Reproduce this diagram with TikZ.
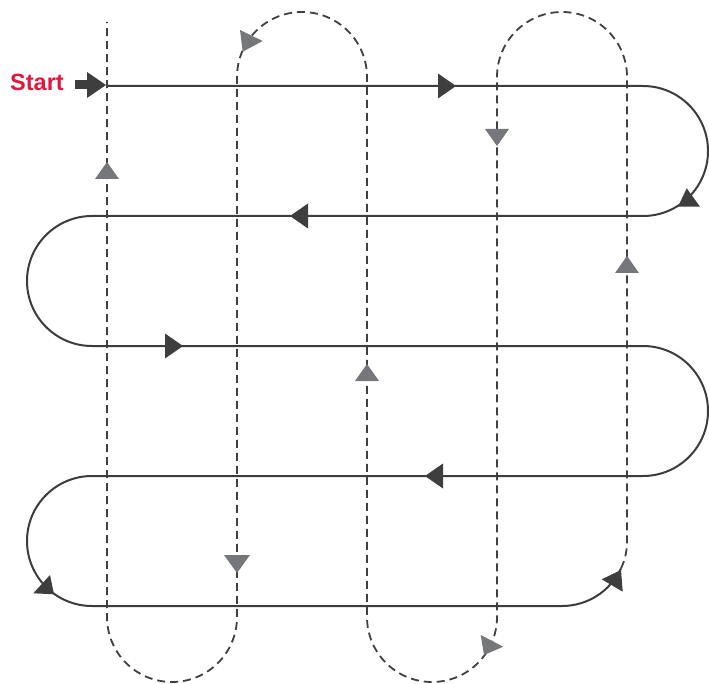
\documentclass[tikz,border=0pt]{standalone}
\usepackage{fontspec}
\setmainfont{Liberation Sans}
\definecolor{lineclr}{HTML}{3C3C3C}
\definecolor{dashclr}{HTML}{404040}
\definecolor{arrowdark}{HTML}{3E3E3E}
\definecolor{arrowgray}{HTML}{76777B}
\definecolor{startred}{HTML}{E3173E}
\begin{document}
\begin{tikzpicture}[x=1pt,y=-1pt,
  solidline/.style={draw=lineclr, line width=2pt},
  dashline/.style={draw=dashclr, line width=1.8pt, dash pattern=on 8pt off 5pt},
  darktri/.style={fill=arrowdark, draw=none},
  graytri/.style={fill=arrowgray, draw=none}]
\useasboundingbox (0,0) rectangle (709,684);

% named coordinates
\coordinate (s0) at (107,86);
\coordinate (r1) at (643,86);
\coordinate (l1) at (92,216);
\coordinate (r2) at (643,346);
\coordinate (l2) at (92,476);
\coordinate (e0) at (562,606);

% dashed vertical serpentine
\draw[dashline] (621,568.5) arc[start angle=25, end angle=0, radius=65]
  -- (627,77) arc[start angle=0, end angle=-180, radius=65]
  -- (497,617) arc[start angle=0, end angle=180, radius=65]
  -- (367,77) arc[start angle=0, end angle=-180, radius=65]
  -- (237,617) arc[start angle=0, end angle=180, radius=65]
  -- (107,22);

% solid horizontal serpentine
\draw[solidline] (s0) -- (r1) arc[start angle=-90, end angle=90, radius=65]
  -- (l1) arc[start angle=270, end angle=90, radius=65]
  -- (r2) arc[start angle=-90, end angle=90, radius=65]
  -- (l2) arc[start angle=270, end angle=90, radius=65]
  -- (e0) arc[start angle=90, end angle=25, radius=65];

% Start label and arrow
\node[anchor=base west, inner sep=0pt, text=startred,
  font=\bfseries\fontsize{23.5}{28}\selectfont] (start) at (10,90.5) {Start};
\fill[arrowdark] (75,80.5) rectangle (89,89.5);
\fill[darktri] (87,72) -- (106,85) -- (87,98) -- cycle;

% arrows on solid straight lines
\fill[darktri] (438,73.5) -- (456,86) -- (438,98.5) -- cycle;
\fill[darktri] (308,203.5) -- (290,216) -- (308,228.5) -- cycle;
\fill[darktri] (165,333.5) -- (183,346) -- (165,358.5) -- cycle;
\fill[darktri] (443,463.5) -- (425,476) -- (443,488.5) -- cycle;

% arrows on solid arcs
\fill[darktri] (686.7,188.3) -- (700,206.7) -- (678,206.7) -- cycle;
\fill[darktri] (50,575) -- (33.3,593.3) -- (54,594.3) -- cycle;
\fill[darktri] (601.7,579.3) -- (621,570) -- (622.7,591.7) -- cycle;

% arrows on dashed straight lines
\fill[graytri] (95,179) -- (107,162) -- (119,179) -- cycle;
\fill[graytri] (224,555) -- (237,573) -- (250,555) -- cycle;
\fill[graytri] (355,381) -- (367,364) -- (379,381) -- cycle;
\fill[graytri] (485,129) -- (497,146) -- (509,129) -- cycle;
\fill[graytri] (615,273) -- (627,256) -- (639,273) -- cycle;

% arrows on dashed arcs
\fill[graytri] (240,30) -- (262.7,41) -- (242.7,51.7) -- cycle;
\fill[graytri] (480.7,635) -- (503.3,646.7) -- (484,655) -- cycle;
\end{tikzpicture}
\end{document}
